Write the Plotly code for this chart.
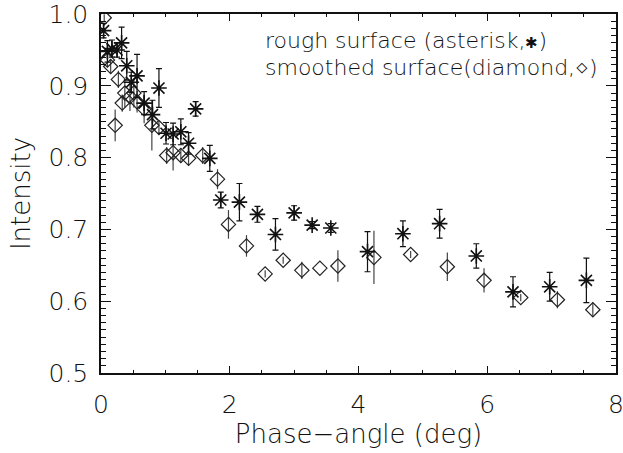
import plotly.graph_objects as go

# Rough surface (asterisks)
rough_x = [0.04, 0.10, 0.17, 0.25, 0.32, 0.40, 0.47, 0.56, 0.67, 0.80, 0.90, 1.01, 1.12, 1.24, 1.36, 1.47,
           1.69, 1.86, 2.15, 2.43, 2.71, 3.00, 3.28, 3.57, 4.14, 4.69, 5.26, 5.83, 6.40, 6.97, 7.54]
rough_y = [0.977, 0.948, 0.952, 0.950, 0.960, 0.928, 0.905, 0.914, 0.876, 0.860, 0.897, 0.834, 0.833, 0.836,
           0.820, 0.868, 0.799, 0.741, 0.738, 0.721, 0.693, 0.723, 0.706, 0.702, 0.669, 0.694, 0.708, 0.663,
           0.613, 0.620, 0.629]
rough_err = [0.010, 0.015, 0.012, 0.010, 0.022, 0.020, 0.014, 0.030, 0.016, 0.020, 0.027, 0.015, 0.015, 0.018,
             0.015, 0.010, 0.018, 0.011, 0.026, 0.011, 0.022, 0.010, 0.005, 0.006, 0.028, 0.018, 0.020, 0.017,
             0.021, 0.020, 0.031]

# Smoothed surface (diamonds)
smooth_x = [0.05, 0.10, 0.15, 0.22, 0.27, 0.33, 0.37, 0.45, 0.51, 0.56, 0.67, 0.79, 0.90, 1.02, 1.12, 1.24,
            1.36, 1.58, 1.81, 1.98, 2.26, 2.55, 2.83, 3.12, 3.40, 3.68, 4.24, 4.81, 5.38, 5.95, 6.52, 7.09, 7.64]
smooth_y = [0.995, 0.936, 0.927, 0.845, 0.909, 0.876, 0.890, 0.885, 0.890, 0.878, 0.868, 0.845, 0.842, 0.803,
            0.807, 0.803, 0.799, 0.803, 0.770, 0.707, 0.677, 0.638, 0.657, 0.643, 0.646, 0.649, 0.661, 0.665,
            0.648, 0.629, 0.605, 0.602, 0.588]
smooth_err = [0.005, 0.010, 0.010, 0.022, 0.012, 0.012, 0.020, 0.020, 0.020, 0.015, 0.020, 0.035, 0.010, 0.012,
              0.025, 0.010, 0.010, 0.012, 0.014, 0.020, 0.015, 0.005, 0.005, 0.012, 0.000, 0.022, 0.037, 0.005,
              0.020, 0.017, 0.005, 0.012, 0.010]

x_ticks = [0, 2, 4, 6, 8]
y_ticks = [0.5, 0.6, 0.7, 0.8, 0.9, 1.0]
legend_lines = ["rough surface (asterisk,<span style='font-size:15px'>\u2731</span>)",
                "smoothed surface(diamond,\u22c4)"]

FONT = "DejaVu Sans"
TXT = "#111111"

fig = go.Figure()
fig.add_trace(go.Scatter(
    x=smooth_x, y=smooth_y, mode="markers",
    marker=dict(symbol="diamond-open", size=11, color="#222222", line=dict(width=1.2)),
    error_y=dict(type="data", array=smooth_err, visible=True, color="#444444", thickness=1.2, width=0),
    showlegend=False,
))
fig.add_trace(go.Scatter(
    x=rough_x, y=rough_y, mode="markers",
    marker=dict(symbol="asterisk-open", size=13, color="#111111", line=dict(width=1.6, color="#111111")),
    error_y=dict(type="data", array=rough_err, visible=True, color="#111111", thickness=1.2, width=3),
    showlegend=False,
))

for i, t in enumerate(legend_lines):
    fig.add_annotation(x=0.315, y=0.925 - i * 0.075, xref="paper", yref="paper", text=t,
                       showarrow=False, xanchor="left", yanchor="middle",
                       font=dict(family=FONT, size=22, color=TXT, weight=200))

axis_common = dict(showgrid=False, zeroline=False, showline=True, linecolor="#111111", linewidth=1.5,
                   mirror="ticks", ticks="inside", tickcolor="#111111", ticklabeloverflow="allow",
                   tickfont=dict(family=FONT, size=25, color=TXT, weight=200))

fig.update_xaxes(range=[0, 8], tickvals=x_ticks, ticktext=[str(v) for v in x_ticks], ticklen=7, tickwidth=1,
                 ticklabelstandoff=8, automargin="bottom",
                 minor=dict(dtick=0.5, ticklen=3.5, ticks="inside", tickcolor="#111111"),
                 title=dict(text="Phase\u2212angle (deg)", font=dict(family=FONT, size=26, color=TXT, weight=200),
                            standoff=6),
                 **axis_common)
fig.update_yaxes(range=[0.4999, 1.0002], tickvals=y_ticks, ticktext=[f"{v:.1f}" for v in y_ticks], ticklen=10,
                 tickwidth=1, ticklabelstandoff=6, automargin="left",
                 minor=dict(dtick=0.01, ticklen=5, ticks="inside", tickcolor="#111111"),
                 title=dict(text="Intensity", font=dict(family=FONT, size=26, color=TXT, weight=200), standoff=10),
                 **axis_common)

fig.update_layout(width=623, height=453, margin=dict(l=101, r=7, t=14, b=80),
                  plot_bgcolor="white", paper_bgcolor="white",
                  font=dict(family=FONT, color=TXT, weight=200))

fig.write_html("out.html")
